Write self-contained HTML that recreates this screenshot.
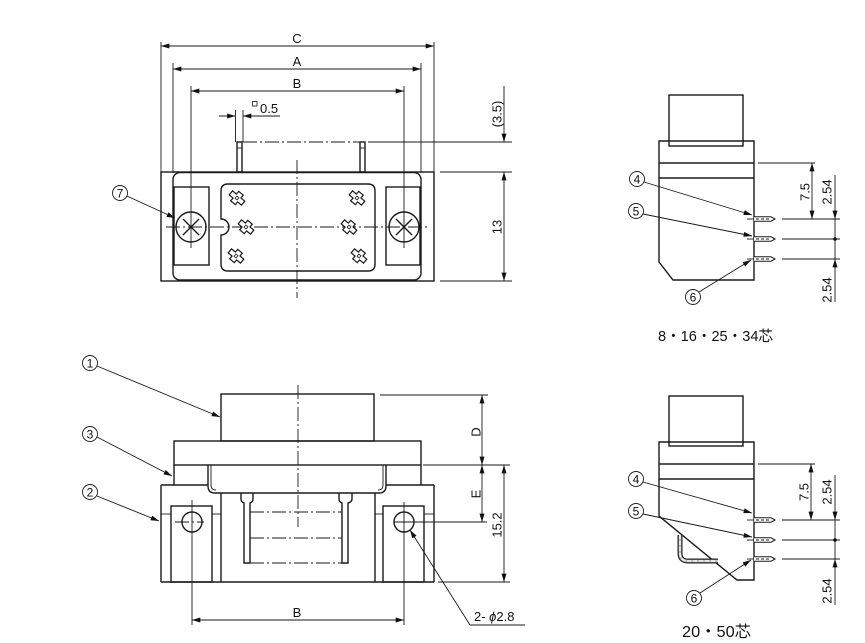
<!DOCTYPE html>
<html><head><meta charset="utf-8"><style>
html,body{margin:0;padding:0;background:#fff;}
svg{display:block;}
text{font-family:"Liberation Sans","Noto Sans CJK JP",sans-serif;fill:#111;}
.jp{font-family:"Liberation Sans","Noto Sans CJK JP",sans-serif;}
.m{stroke:#1a1a1a;stroke-width:1.4;fill:none;}
.t{stroke:#1a1a1a;stroke-width:0.9;fill:none;}
.c{stroke:#1a1a1a;stroke-width:0.9;fill:none;stroke-dasharray:14 3 2 3;}
</style></head><body>
<svg width="865" height="643" viewBox="0 0 865 643" xmlns="http://www.w3.org/2000/svg">
<defs>
<marker id="a" viewBox="0 0 10 6" refX="10" refY="3" markerWidth="9" markerHeight="5" markerUnits="userSpaceOnUse" orient="auto-start-reverse"><path d="M0,0 L10,3 L0,6 z" fill="#111"/></marker>
<g id="ct"><path d="M-8,-2.6 L-3,-2.6 L-3,-6.2 L3,-6.2 L3,-2.6 L8,-2.6 L8,2.6 L3,2.6 L3,6.2 L-3,6.2 L-3,2.6 L-8,2.6 Z" fill="#fff" stroke="#1a1a1a" stroke-width="1.2"/><rect x="-1.4" y="-1.4" width="2.8" height="2.8" fill="none" stroke="#1a1a1a" stroke-width="0.8"/></g>
<g id="pin"><line x1="-7" y1="0" x2="0" y2="0" class="t"/><path d="M0,-2.2 L17,-2.2 L21,0 L17,2.2 L0,2.2" fill="#fff" stroke="#1a1a1a" stroke-width="1"/><line x1="2" y1="0" x2="17" y2="0" stroke="#1a1a1a" stroke-width="0.9" stroke-dasharray="3 2"/></g>
</defs>

<!-- ================= TOP-LEFT VIEW ================= -->
<line x1="161" y1="42" x2="161" y2="172" class="t"/>
<line x1="434" y1="42" x2="434" y2="172" class="t"/>
<line x1="161" y1="46" x2="434" y2="46" class="t" marker-start="url(#a)" marker-end="url(#a)"/>
<text x="297" y="43" font-size="13" text-anchor="middle">C</text>
<line x1="173" y1="63" x2="173" y2="173" class="t"/>
<line x1="421" y1="63" x2="421" y2="173" class="t"/>
<line x1="173" y1="69" x2="421" y2="69" class="t" marker-start="url(#a)" marker-end="url(#a)"/>
<text x="297" y="66" font-size="13" text-anchor="middle">A</text>
<line x1="191" y1="86" x2="191" y2="248" class="t"/>
<line x1="404" y1="86" x2="404" y2="248" class="t"/>
<line x1="191" y1="91" x2="404" y2="91" class="t" marker-start="url(#a)" marker-end="url(#a)"/>
<text x="297" y="88" font-size="13" text-anchor="middle">B</text>
<line x1="235.5" y1="110" x2="235.5" y2="142" class="t"/>
<line x1="243" y1="110" x2="243" y2="142" class="t"/>
<line x1="219" y1="116" x2="235.5" y2="116" class="t" marker-end="url(#a)"/>
<line x1="280" y1="116" x2="243" y2="116" class="t" marker-end="url(#a)"/>
<rect x="252.5" y="101.5" width="4.5" height="4.5" fill="none" stroke="#111" stroke-width="0.8"/>
<text x="260" y="113" font-size="13">0.5</text>
<rect x="237" y="142" width="5" height="30" class="m" stroke-width="1"/>
<line x1="237" y1="148" x2="242" y2="148" class="t"/>
<rect x="360" y="142" width="5" height="30" class="m" stroke-width="1"/>
<line x1="360" y1="148" x2="365" y2="148" class="t"/>
<line x1="243" y1="142" x2="360" y2="142" class="c"/>
<line x1="368" y1="142" x2="512" y2="142" class="t"/>
<line x1="504" y1="86" x2="504" y2="142" class="t" marker-end="url(#a)"/>
<line x1="504" y1="172" x2="504" y2="281" class="t" marker-start="url(#a)" marker-end="url(#a)"/>
<line x1="440" y1="172" x2="512" y2="172" class="t"/>
<line x1="440" y1="281" x2="512" y2="281" class="t"/>
<text transform="translate(497,114) rotate(-90)" font-size="13" text-anchor="middle" dominant-baseline="central">(3.5)</text>
<text transform="translate(497,227) rotate(-90)" font-size="13" text-anchor="middle" dominant-baseline="central">13</text>
<rect x="161" y="172" width="273" height="109" class="m"/>
<rect x="173" y="172.5" width="248" height="107.5" rx="7" class="m"/>
<rect x="174" y="187" width="35" height="78" class="m"/>
<rect x="386" y="187" width="34" height="78" class="m"/>
<path d="M228,184 L368,184 Q375,184 375,191 L375,264 Q375,271 368,271 L228,271 Q221,271 221,264 L221,235 A8,8 0 0 0 221,219 L221,191 Q221,184 228,184 Z" class="m"/>
<line x1="166" y1="227" x2="430" y2="227" class="c"/>
<line x1="297" y1="160" x2="297" y2="298" class="c"/>
<circle cx="191" cy="227" r="15" class="m"/>
<circle cx="404" cy="227" r="15" class="m"/>
<path d="M183,219 L199,235 M199,219 L183,235 M396,219 L412,235 M412,219 L396,235" class="m"/>
<use href="#ct" transform="translate(237,198) rotate(40)"/>
<use href="#ct" transform="translate(246,227) rotate(40)"/>
<use href="#ct" transform="translate(236,256) rotate(40)"/>
<use href="#ct" transform="translate(357,198) rotate(40)"/>
<use href="#ct" transform="translate(349,227) rotate(40)"/>
<use href="#ct" transform="translate(359,256) rotate(40)"/>
<circle cx="120" cy="193" r="7.5" class="t"/>
<text x="120" y="197.5" font-size="12" text-anchor="middle">7</text>
<line x1="127" y1="196" x2="175" y2="218" class="t" marker-end="url(#a)"/>

<!-- ================= BOTTOM-LEFT VIEW ================= -->
<rect x="221" y="394" width="153" height="47" class="m"/>
<rect x="174" y="441" width="247" height="24" class="m"/>
<line x1="174" y1="465" x2="174" y2="485" class="m"/>
<line x1="421" y1="465" x2="421" y2="485" class="m"/>
<path d="M208,465 L208,486 Q208,493 215,493 L379,493 Q386,493 386,486 L386,465" class="m" stroke-width="1.5"/>
<path d="M211,465 L211,485 Q211,490 216,490 M383,465 L383,485 Q383,490 378,490" class="t"/>
<line x1="161" y1="485" x2="208" y2="485" class="m"/>
<line x1="386" y1="485" x2="434" y2="485" class="m"/>
<line x1="161" y1="485" x2="161" y2="582" class="m"/>
<line x1="434" y1="485" x2="434" y2="582" class="m"/>
<line x1="161" y1="582" x2="434" y2="582" class="m"/>
<line x1="161" y1="514" x2="171" y2="514" class="t"/>
<line x1="212" y1="514" x2="221" y2="514" class="t"/>
<line x1="375" y1="514" x2="383" y2="514" class="t"/>
<line x1="424" y1="514" x2="434" y2="514" class="t"/>
<rect x="171" y="506" width="41" height="76" class="m"/>
<rect x="383" y="506" width="41" height="76" class="m"/>
<line x1="221" y1="493" x2="221" y2="582" class="m"/>
<line x1="375" y1="493" x2="375" y2="582" class="m"/>
<path d="M241,493 L241,499 Q241,502 244,503 L244,563 L250,563 L250,503 Q253,502 253,499 L253,493" class="m" stroke-width="1.1"/>
<path d="M339,493 L339,499 Q339,502 342,503 L342,563 L348,563 L348,503 Q352,502 352,499 L352,493" class="m" stroke-width="1.1"/>
<line x1="250" y1="512" x2="342" y2="512" class="c"/>
<line x1="250" y1="538" x2="342" y2="538" class="c"/>
<line x1="250" y1="563" x2="342" y2="563" class="c"/>
<line x1="298" y1="385" x2="298" y2="527" class="c"/>
<circle cx="192" cy="522" r="10" class="m"/>
<circle cx="404" cy="522" r="10" class="m"/>
<line x1="175" y1="522" x2="204" y2="522" class="c" stroke-dasharray="5 2 2 2"/>
<line x1="394" y1="522" x2="487" y2="522" class="t"/>
<line x1="192" y1="500" x2="192" y2="625" class="t"/>
<line x1="404" y1="502" x2="404" y2="625" class="t"/>
<line x1="192" y1="620" x2="404" y2="620" class="t" marker-start="url(#a)" marker-end="url(#a)"/>
<text x="297" y="617" font-size="13" text-anchor="middle">B</text>
<line x1="470" y1="625" x2="410" y2="530" class="t" marker-end="url(#a)"/>
<line x1="470" y1="625" x2="525" y2="625" class="t"/>
<text x="474" y="621" font-size="13">2- <tspan font-style="italic">ϕ</tspan>2.8</text>
<line x1="380" y1="395" x2="488" y2="395" class="t"/>
<line x1="423" y1="465" x2="510" y2="465" class="t"/>
<line x1="438" y1="582" x2="510" y2="582" class="t"/>
<line x1="482" y1="395" x2="482" y2="465" class="t" marker-start="url(#a)" marker-end="url(#a)"/>
<line x1="482" y1="465" x2="482" y2="522" class="t" marker-start="url(#a)" marker-end="url(#a)"/>
<line x1="504" y1="465" x2="504" y2="582" class="t" marker-start="url(#a)" marker-end="url(#a)"/>
<text transform="translate(476,432) rotate(-90)" font-size="13" text-anchor="middle" dominant-baseline="central">D</text>
<text transform="translate(476,494) rotate(-90)" font-size="13" text-anchor="middle" dominant-baseline="central">E</text>
<text transform="translate(497,525) rotate(-90)" font-size="13" text-anchor="middle" dominant-baseline="central">15.2</text>
<circle cx="90" cy="363" r="7.5" class="t"/>
<text x="90" y="367.5" font-size="12" text-anchor="middle">1</text>
<line x1="97" y1="366" x2="220" y2="417" class="t" marker-end="url(#a)"/>
<circle cx="90" cy="434" r="7.5" class="t"/>
<text x="90" y="438.5" font-size="12" text-anchor="middle">3</text>
<line x1="97" y1="437" x2="172" y2="476" class="t" marker-end="url(#a)"/>
<circle cx="90" cy="492" r="7.5" class="t"/>
<text x="90" y="496.5" font-size="12" text-anchor="middle">2</text>
<line x1="97" y1="496" x2="159" y2="521" class="t" marker-end="url(#a)"/>

<!-- ================= RIGHT TOP VIEW ================= -->
<path d="M659,141 L754,141 L754,280 L673,280 L659,262 Z" class="m"/>
<rect x="669" y="95" width="74" height="51" class="m"/>
<line x1="659" y1="163" x2="754" y2="163" class="m"/>
<line x1="659" y1="178" x2="754" y2="178" class="m" stroke-width="2"/>
<use href="#pin" transform="translate(754,219)"/>
<use href="#pin" transform="translate(754,239)"/>
<use href="#pin" transform="translate(754,259)"/>
<line x1="782" y1="219" x2="840" y2="219" class="t"/>
<line x1="782" y1="239" x2="840" y2="239" class="t"/>
<line x1="782" y1="259" x2="840" y2="259" class="t"/>
<line x1="758" y1="163" x2="815" y2="163" class="t"/>
<line x1="812" y1="163" x2="812" y2="219" class="t" marker-start="url(#a)" marker-end="url(#a)"/>
<line x1="835" y1="175" x2="835" y2="219" class="t" marker-end="url(#a)"/>
<line x1="835" y1="219" x2="835" y2="259" class="t"/>
<circle cx="835" cy="239" r="1.8" fill="#111"/>
<line x1="835" y1="302" x2="835" y2="259" class="t" marker-end="url(#a)"/>
<text transform="translate(805,192) rotate(-90)" font-size="13" text-anchor="middle" dominant-baseline="central">7.5</text>
<text transform="translate(827,192) rotate(-90)" font-size="13" text-anchor="middle" dominant-baseline="central">2.54</text>
<text transform="translate(827,290) rotate(-90)" font-size="13" text-anchor="middle" dominant-baseline="central">2.54</text>
<circle cx="637" cy="179" r="7.5" class="t"/>
<text x="637" y="183.5" font-size="12" text-anchor="middle">4</text>
<line x1="644" y1="182" x2="752" y2="215" class="t" marker-end="url(#a)"/>
<circle cx="636" cy="211" r="7.5" class="t"/>
<text x="636" y="215.5" font-size="12" text-anchor="middle">5</text>
<line x1="643" y1="214" x2="752" y2="236" class="t" marker-end="url(#a)"/>
<circle cx="693" cy="297" r="7.5" class="t"/>
<text x="693" y="301.5" font-size="12" text-anchor="middle">6</text>
<line x1="699" y1="292" x2="751" y2="260" class="t" marker-end="url(#a)"/>
<text class="jp" x="658" y="341" font-size="15" textLength="115" lengthAdjust="spacingAndGlyphs">8・16・25・34芯</text>

<!-- ================= RIGHT BOTTOM VIEW ================= -->
<path d="M659,442 L754,442 L754,580 L737,580 L659,516 Z" class="m"/>
<rect x="669" y="396" width="74" height="50" class="m"/>
<line x1="659" y1="464" x2="754" y2="464" class="m"/>
<line x1="659" y1="479" x2="754" y2="479" class="m"/>
<path d="M680,535 L680,553 Q680,561 688,561 L718,561" fill="none" stroke="#222" stroke-width="5"/>
<path d="M680,535 L680,553 Q680,561 688,561 L718,561" fill="none" stroke="#bbb" stroke-width="2.6"/>
<path d="M680,535 L680,553 Q680,561 688,561 L718,561" fill="none" stroke="#fff" stroke-width="1.2" stroke-dasharray="4 2"/>
<use href="#pin" transform="translate(754,520)"/>
<use href="#pin" transform="translate(754,540)"/>
<use href="#pin" transform="translate(754,559)"/>
<line x1="782" y1="520" x2="840" y2="520" class="t"/>
<line x1="782" y1="540" x2="840" y2="540" class="t"/>
<line x1="782" y1="559" x2="840" y2="559" class="t"/>
<line x1="758" y1="464" x2="815" y2="464" class="t"/>
<line x1="811" y1="464" x2="811" y2="520" class="t" marker-start="url(#a)" marker-end="url(#a)"/>
<line x1="835" y1="475" x2="835" y2="520" class="t" marker-end="url(#a)"/>
<line x1="835" y1="520" x2="835" y2="559" class="t"/>
<circle cx="835" cy="540" r="1.8" fill="#111"/>
<line x1="835" y1="605" x2="835" y2="559" class="t" marker-end="url(#a)"/>
<text transform="translate(804,492) rotate(-90)" font-size="13" text-anchor="middle" dominant-baseline="central">7.5</text>
<text transform="translate(827,492) rotate(-90)" font-size="13" text-anchor="middle" dominant-baseline="central">2.54</text>
<text transform="translate(827,591) rotate(-90)" font-size="13" text-anchor="middle" dominant-baseline="central">2.54</text>
<circle cx="636" cy="479" r="7.5" class="t"/>
<text x="636" y="483.5" font-size="12" text-anchor="middle">4</text>
<line x1="643" y1="482" x2="752" y2="513" class="t" marker-end="url(#a)"/>
<circle cx="636" cy="511" r="7.5" class="t"/>
<text x="636" y="515.5" font-size="12" text-anchor="middle">5</text>
<line x1="643" y1="514" x2="752" y2="537" class="t" marker-end="url(#a)"/>
<circle cx="694" cy="598" r="7.5" class="t"/>
<text x="694" y="602.5" font-size="12" text-anchor="middle">6</text>
<line x1="700" y1="593" x2="751" y2="560" class="t" marker-end="url(#a)"/>
<text class="jp" x="682" y="637" font-size="16" textLength="69" lengthAdjust="spacingAndGlyphs">20・50芯</text>
</svg>
</body></html>
